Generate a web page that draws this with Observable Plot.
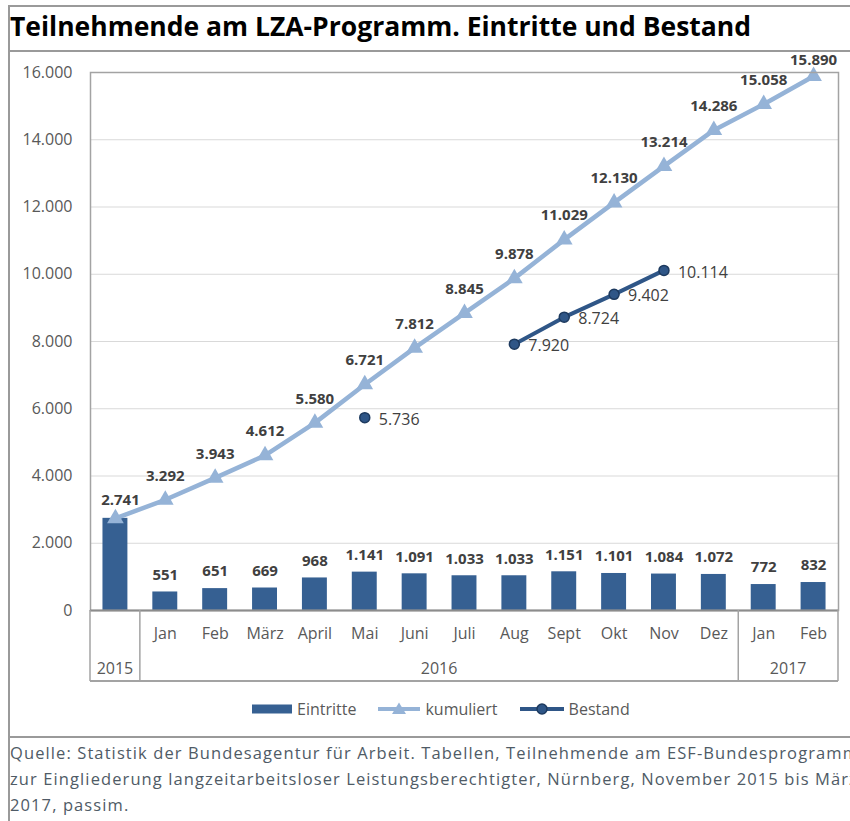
<!DOCTYPE html>
<html>
<head>
<meta charset="utf-8">
<script src="https://cdn.jsdelivr.net/npm/d3@7"></script>
<script src="https://cdn.jsdelivr.net/npm/@observablehq/plot@0.6"></script>
<style>
  html, body { margin: 0; padding: 0; background: #fff; }
  body { width: 850px; height: 821px; position: relative; overflow: hidden; font-family: "Open Sans", sans-serif; }
  .hline { position: absolute; background: #9a9a9a; }
  #title { position: absolute; left: 10px; top: 8px; height: 36px; line-height: 36px; font-size: 26.5px; font-weight: bold; color: #000; white-space: nowrap; }
  #chart { position: absolute; left: 0; top: 41px; width: 850px; }
  #chart svg { max-width: none; }
  #legend { position: absolute; left: 252px; top: 698px; height: 22px; display: flex; align-items: center; font-size: 16px; color: #595959; white-space: nowrap; }
  #legend .item { display: flex; align-items: center; margin-right: 22px; }
  #legend svg { display: block; margin-right: 5px; }
  #caption { position: absolute; left: 10px; top: 740px; width: 840px; overflow: hidden; font-size: 16.5px; letter-spacing: 1.1px; line-height: 26px; color: #4f5b66; white-space: nowrap; }
</style>
</head>
<body>
<div class="hline" style="left:8px; top:5px; width:842px; height:2px;"></div>
<div class="hline" style="left:8px; top:50px; width:842px; height:1.5px;"></div>
<div class="hline" style="left:8px; top:736px; width:842px; height:1.5px;"></div>
<div class="hline" style="left:8px; top:5px; width:1.5px; height:816px;"></div>
<div id="title">Teilnehmende am LZA-Programm. Eintritte und Bestand</div>
<div id="chart"></div>
<div id="legend"></div>
<div id="caption"></div>
<script>
// ---- data ----
const monthLabels = ["", "Jan", "Feb", "März", "April", "Mai", "Juni", "Juli", "Aug", "Sept", "Okt", "Nov", "Dez", "Jan", "Feb"];
const yearLabels  = ["2015", "2016", "2016", "2016", "2016", "2016", "2016", "2016", "2016", "2016", "2016", "2016", "2016", "2017", "2017"];
const eintritte   = [2741, 551, 651, 669, 968, 1141, 1091, 1033, 1033, 1151, 1101, 1084, 1072, 772, 832];
const kumuliert   = [2741, 3292, 3943, 4612, 5580, 6721, 7812, 8845, 9878, 11029, 12130, 13214, 14286, 15058, 15890];
const bestand     = [null, null, null, null, null, 5736, null, null, 7920, 8724, 9402, 10114, null, null, null];
const yTicks      = [0, 2000, 4000, 6000, 8000, 10000, 12000, 14000, 16000];
const seriesNames = ["Eintritte", "kumuliert", "Bestand"];
const captionLines = [
  "Quelle: Statistik der Bundesagentur für Arbeit. Tabellen, Teilnehmende am ESF-Bundesprogramm",
  "zur Eingliederung langzeitarbeitsloser Leistungsberechtigter, Nürnberg, November 2015 bis März",
  "2017, passim."
];

// ---- styles ----
const C_BAR = "#366092", C_KUM = "#95b3d7", C_BEST = "#2f5687", C_BEST_STROKE = "#1d3a5f";
const C_LABEL = "#404040", C_AXIS = "#595959", C_FRAME = "#a3a3a3";

const de = d3.formatLocale({decimal: ",", thousands: ".", grouping: [3], currency: ["", " €"]});
const fmt = de.format(",");

const data = monthLabels.map((m, i) => ({
  i, month: m, year: yearLabels[i],
  eintritte: eintritte[i], kumuliert: kumuliert[i], bestand: bestand[i]
}));
const last = data.length - 1;
const bestandPts = data.filter(d => d.bestand != null);

const plot = Plot.plot({
  width: 850,
  height: 641,
  marginLeft: 90,
  marginRight: 12,
  marginTop: 31,
  marginBottom: 72,
  style: {fontFamily: "Open Sans", fontSize: "14px", color: C_AXIS, background: "transparent", overflow: "visible"},
  x: {type: "band", domain: data.map(d => d.i), paddingInner: 0.5, paddingOuter: 0.25, round: false},
  y: {domain: [0, 16000]},
  marks: [
    Plot.gridY(yTicks, {stroke: "#d9d9d9", strokeOpacity: 1, strokeWidth: 1}),
    Plot.axisY(yTicks, {tickSize: 0, tickPadding: 18, tickFormat: fmt, fontSize: 16, fill: C_AXIS, label: null}),
    Plot.axisX({tickSize: 0, tickPadding: 17, tickFormat: i => monthLabels[i], fontSize: 16, fill: C_AXIS, label: null}),
    Plot.barY(data, {x: "i", y: "eintritte", fill: C_BAR}),
    Plot.text(data.filter(d => d.i > 0), {x: "i", y: "eintritte", text: d => fmt(d.eintritte), dy: -17, fontWeight: "bold", fontSize: 15, fill: C_LABEL}),
    Plot.line(data, {x: "i", y: "kumuliert", stroke: C_KUM, strokeWidth: 4.5}),
    Plot.dot(data, {x: "i", y: "kumuliert", symbol: "triangle", r: 6.2, fill: C_KUM, stroke: "none"}),
    Plot.text(data.filter(d => d.i > 0 && d.i < last), {x: "i", y: "kumuliert", text: d => fmt(d.kumuliert), dy: -24, fontWeight: "bold", fontSize: 15, fill: C_LABEL}),
    Plot.text(data.filter(d => d.i === 0), {x: "i", y: "kumuliert", text: d => fmt(d.kumuliert), dy: -18, dx: 5, fontWeight: "bold", fontSize: 15, fill: C_LABEL}),
    Plot.text(data.filter(d => d.i === last), {x: "i", y: "kumuliert", text: d => fmt(d.kumuliert), dy: -16, fontWeight: "bold", fontSize: 15, fill: C_LABEL}),
    Plot.line(data, {x: "i", y: "bestand", stroke: C_BEST, strokeWidth: 4}),
    Plot.dot(bestandPts, {x: "i", y: "bestand", r: 5, fill: C_BEST, stroke: C_BEST_STROKE, strokeWidth: 1.5}),
    Plot.text(bestandPts, {x: "i", y: "bestand", text: d => fmt(d.bestand), dx: 14, dy: 2, textAnchor: "start", fontSize: 16, fill: C_LABEL}),
    Plot.frame({stroke: C_FRAME, strokeWidth: 1.5}),
    Plot.ruleY([0], {stroke: "#8c8c8c", strokeWidth: 2})
  ]
});

// ---- grouped category axis (years) drawn from the plot's own scales ----
const xs = plot.scale("x"), ys = plot.scale("y");
const n = xs.domain.length;
const pi = xs.paddingInner ?? 0.5, po = xs.paddingOuter ?? 0.25;
const step = xs.step ?? (xs.range[1] - xs.range[0]) / (n - pi + 2 * po);
const bw = xs.bandwidth ?? step * (1 - pi);
const half = (step - bw) / 2;
const y0 = ys.apply(0), yBottom = y0 + 71;
const groups = d3.groups(data, d => d.year).map(([year, arr]) => ({
  year,
  left: xs.apply(arr[0].i) - half,
  right: xs.apply(arr[arr.length - 1].i) + bw + half
}));
const svg = d3.select(plot);
const g = svg.append("g");
const bounds = groups.map(d => d.left).concat([groups[groups.length - 1].right]);
g.selectAll("line.sep").data(bounds).join("line")
  .attr("x1", d => d).attr("x2", d => d).attr("y1", y0).attr("y2", yBottom)
  .attr("stroke", C_FRAME).attr("stroke-width", 1.5);
g.append("line").attr("x1", bounds[0]).attr("x2", bounds[bounds.length - 1])
  .attr("y1", yBottom).attr("y2", yBottom).attr("stroke", C_FRAME).attr("stroke-width", 2);
g.selectAll("text.year").data(groups).join("text")
  .attr("x", d => (d.left + d.right) / 2).attr("y", yBottom - 7)
  .attr("text-anchor", "middle").attr("font-size", 16).attr("fill", C_AXIS)
  .text(d => d.year);

document.getElementById("chart").appendChild(plot);

// ---- legend ----
const legend = document.getElementById("legend");
const swatches = [
  `<svg width="40" height="10"><rect x="0" y="0.5" width="40" height="9" fill="${C_BAR}"/></svg>`,
  `<svg width="42" height="16"><line x1="0" x2="42" y1="8" y2="8" stroke="${C_KUM}" stroke-width="4"/><path d="M21,1.5 L28,13 L14,13 Z" fill="${C_KUM}"/></svg>`,
  `<svg width="44" height="14"><line x1="0" x2="44" y1="7" y2="7" stroke="${C_BEST}" stroke-width="4"/><circle cx="22" cy="7" r="5" fill="${C_BEST}" stroke="${C_BEST_STROKE}" stroke-width="1.5"/></svg>`
];
seriesNames.forEach((name, k) => {
  const it = document.createElement("div");
  it.className = "item";
  it.innerHTML = swatches[k] + `<span>${name}</span>`;
  legend.appendChild(it);
});

// ---- caption ----
document.getElementById("caption").innerHTML = captionLines.join("<br>");
</script>
</body>
</html>
